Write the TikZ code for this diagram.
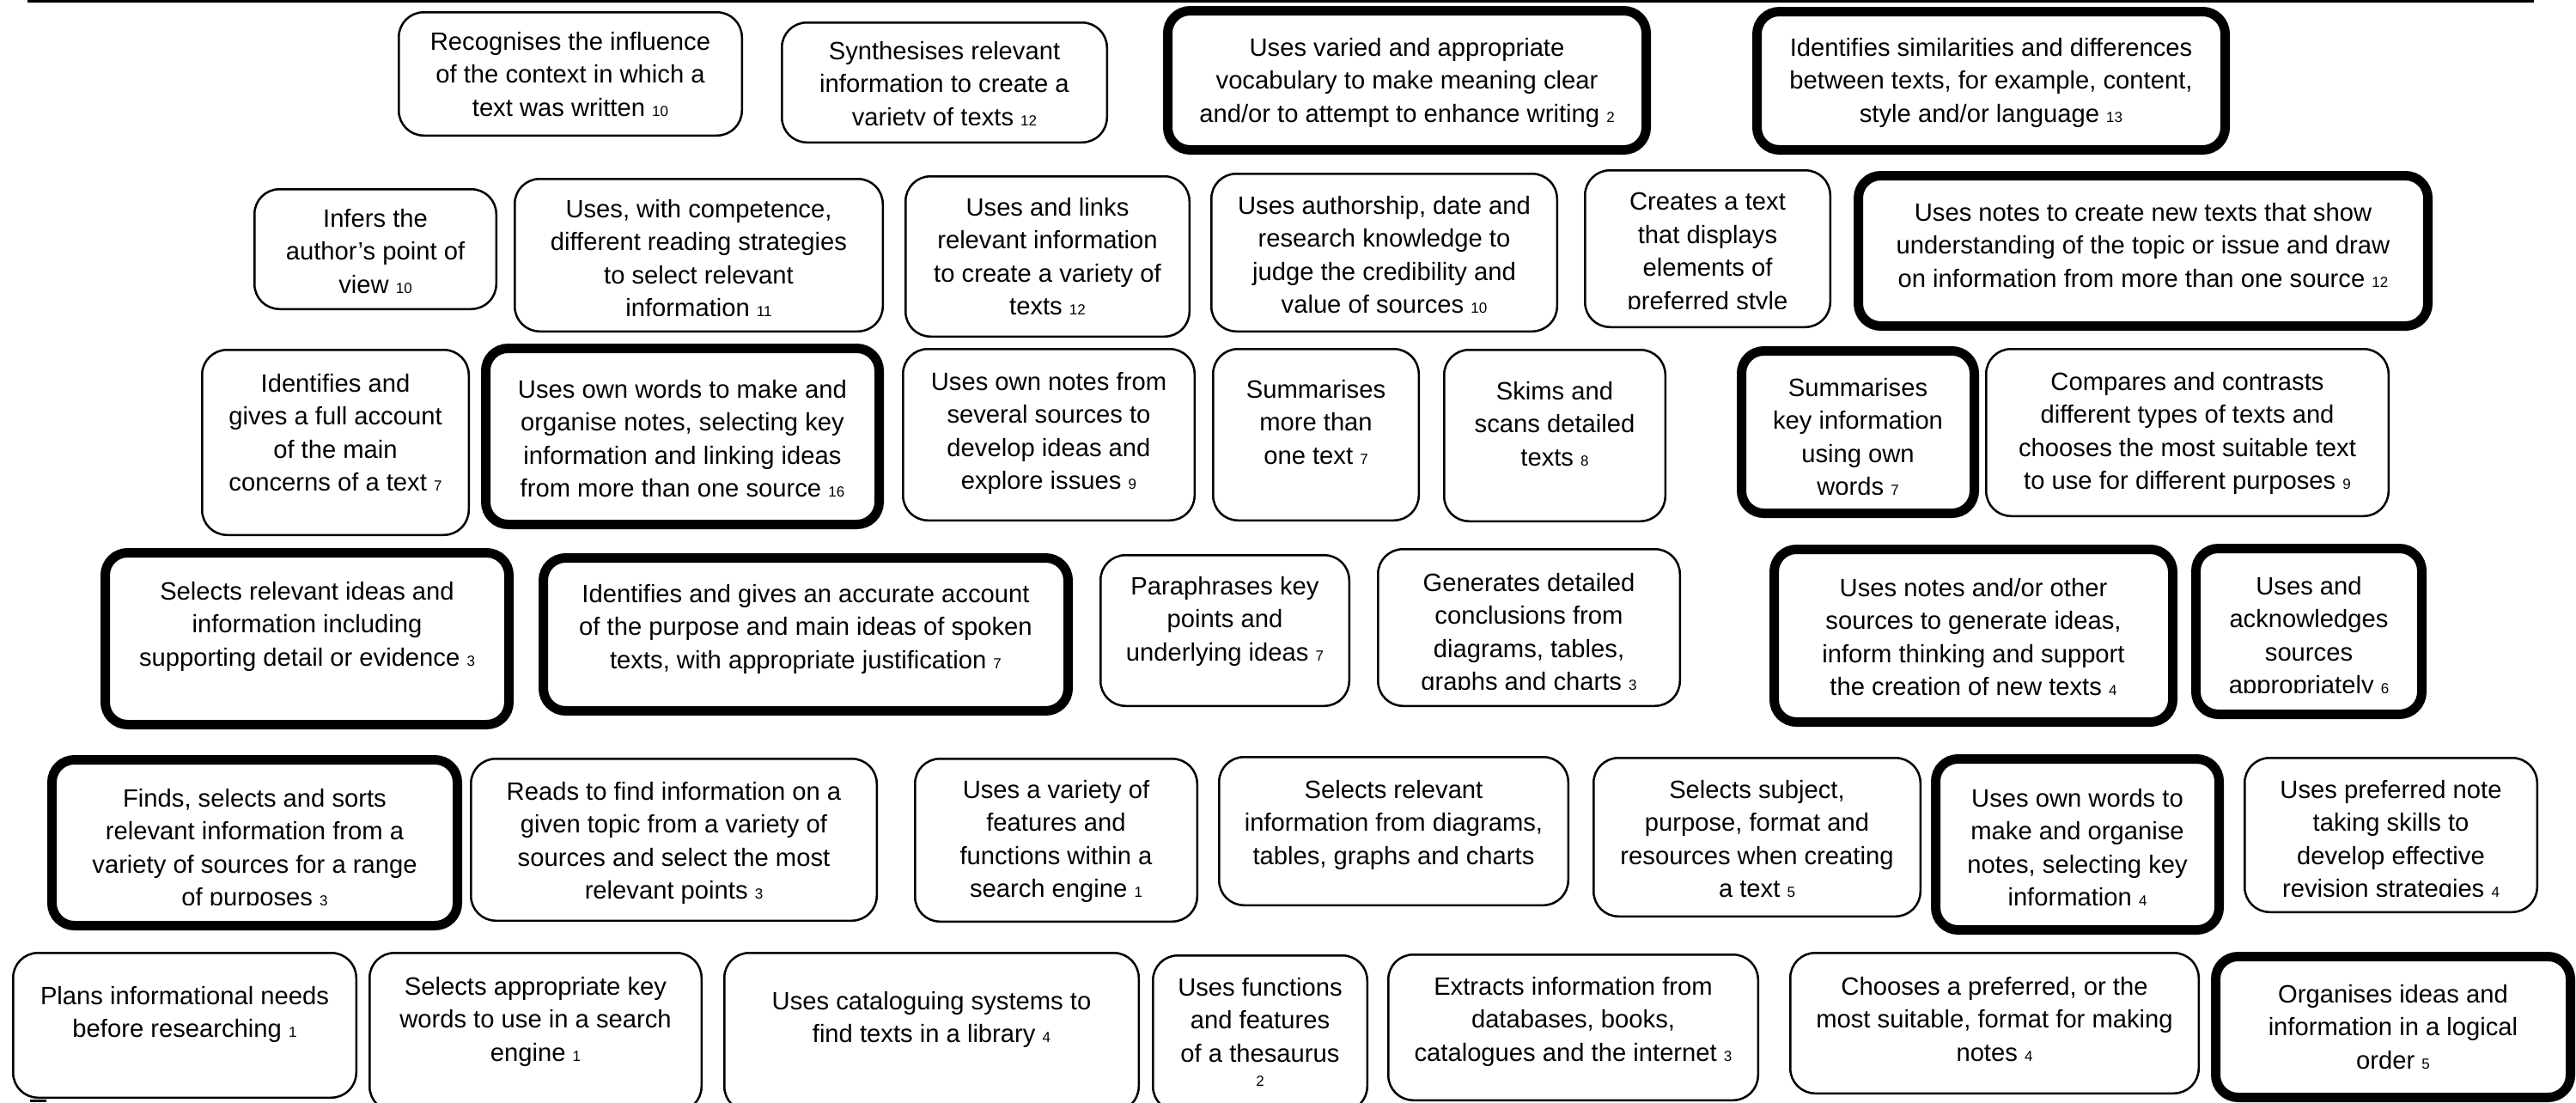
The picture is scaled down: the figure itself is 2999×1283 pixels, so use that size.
\documentclass[tikz,border=0pt]{standalone}
\usepackage{fontspec}
\setmainfont{Liberation Sans}
\usetikzlibrary{fit}

% body text of the skill boxes and the small level numbers after it
\newcommand\skillfont{\fontsize{29.2}{38.5}\selectfont}
\newcommand\lvlno[1]{{\fontsize{17}{17}\selectfont #1}}

\tikzset{
  skillbox/.style={draw=black, line width=2.5pt, rounded corners=29pt, inner sep=-1.25pt},
  keybox/.style={draw=black, line width=11pt, rounded corners=26pt, inner sep=-5.5pt},
  skilltext/.style={font=\skillfont, align=center, inner sep=0pt, anchor=north,
                    execute at begin node=\strut},
}

\begin{document}
\begin{tikzpicture}[x=1pt, y=-1pt]
\useasboundingbox (0,0) rectangle (2999,1283);
\clip (0,0) rectangle (2999,1283);

% rule along the top edge
\coordinate (ruleL) at (32,1.5);
\coordinate (ruleR) at (2950,1.5);
\draw[line width=3pt] (ruleL) -- (ruleR);

% ---------- row 1 ----------
\node[skillbox, fit={(463,13) (865,159)}] (b-a1) {};
\node[skilltext] (t-a1) at (664,37) {Recognises the influence\\of the context in which a\\text was written \lvlno{10}};

\node[skillbox, fit={(909,25) (1290,167)}] (b-a2) {};
\begin{scope}
\clip (909,25) rectangle (1290,145);
\node[skilltext] (t-a2) at (1099.5,48) {Synthesises relevant\\information to create a\\variety of texts \lvlno{12}};
\end{scope}

\node[keybox, fit={(1354,7) (1922,180)}] (b-a3) {};
\node[skilltext] (t-a3) at (1638,44) {Uses varied and appropriate\\vocabulary to make meaning clear\\and/or to attempt to enhance writing \lvlno{2}};

\node[keybox, fit={(2040,8) (2596,180)}] (b-a4) {};
\node[skilltext] (t-a4) at (2318,44) {Identifies similarities and differences\\between texts, for example, content,\\style and/or language \lvlno{13}};

% ---------- row 2 ----------
\node[skillbox, fit={(295,219) (579,361)}] (b-b1) {};
\node[skilltext] (t-b1) at (437,243) {Infers the\\author’s point of\\view \lvlno{10}};

\node[skillbox, fit={(598,207) (1029,387)}] (b-b2) {};
\begin{scope}
\clip (598,207) rectangle (1029,367.5);
\node[skilltext] (t-b2) at (813.5,232) {Uses, with competence,\\different reading strategies\\to select relevant\\information \lvlno{11}};
\end{scope}

\node[skillbox, fit={(1053,204) (1386,393)}] (b-b3) {};
\node[skilltext] (t-b3) at (1219.5,230) {Uses and links\\relevant information\\to create a variety of\\texts \lvlno{12}};

\node[skillbox, fit={(1409,201) (1814,387)}] (b-b4) {};
\node[skilltext] (t-b4) at (1611.5,228) {Uses authorship, date and\\research knowledge to\\judge the credibility and\\value of sources \lvlno{10}};

\node[skillbox, fit={(1844,197) (2132,382)}] (b-b5) {};
\begin{scope}
\clip (1844,197) rectangle (2132,359.5);
\node[skilltext] (t-b5) at (1988,224) {Creates a text\\that displays\\elements of\\preferred style};
\end{scope}

\node[keybox, fit={(2158,199) (2832,385)}] (b-b6) {};
\node[skilltext] (t-b6) at (2495,236) {Uses notes to create new texts that show\\understanding of the topic or issue and draw\\on information from more than one source \lvlno{12}};

% ---------- row 3 ----------
\node[skillbox, fit={(234,406) (547,624)}] (b-c1) {};
\node[skilltext] (t-c1) at (390.5,435) {Identifies and\\gives a full account\\of the main\\concerns of a text \lvlno{7}};

\node[keybox, fit={(560,400) (1029,616)}] (b-c2) {};
\node[skilltext] (t-c2) at (794.5,442) {Uses own words to make and\\organise notes, selecting key\\information and linking ideas\\from more than one source \lvlno{16}};

\node[skillbox, fit={(1050,405) (1392,607)}] (b-c3) {};
\node[skilltext] (t-c3) at (1221,433) {Uses own notes from\\several sources to\\develop ideas and\\explore issues \lvlno{9}};

\node[skillbox, fit={(1411,405) (1653,607)}] (b-c4) {};
\node[skilltext] (t-c4) at (1532,442) {Summarises\\more than\\one text \lvlno{7}};

\node[skillbox, fit={(1680,406) (1940,608)}] (b-c5) {};
\node[skilltext] (t-c5) at (1810,444) {Skims and\\scans detailed\\texts \lvlno{8}};

\node[keybox, fit={(2022,403) (2304,603)}] (b-c6) {};
\begin{scope}
\clip (2022,403) rectangle (2304,575.5);
\node[skilltext] (t-c6) at (2163,440) {Summarises\\key information\\using own\\words \lvlno{7}};
\end{scope}

\node[skillbox, fit={(2311,405) (2782,602)}] (b-c7) {};
\node[skilltext] (t-c7) at (2546.5,433) {Compares and contrasts\\different types of texts and\\chooses the most suitable text\\to use for different purposes \lvlno{9}};

% ---------- row 4 ----------
\node[keybox, fit={(117,638) (598,849)}] (b-d1) {};
\node[skilltext] (t-d1) at (357.5,677) {Selects relevant ideas and\\information including\\supporting detail or evidence \lvlno{3}};

\node[keybox, fit={(627,644) (1249,833)}] (b-d2) {};
\node[skilltext] (t-d2) at (938,680) {Identifies and gives an accurate account\\of the purpose and main ideas of spoken\\texts, with appropriate justification \lvlno{7}};

\node[skillbox, fit={(1280,645) (1572,823)}] (b-d3) {};
\node[skilltext] (t-d3) at (1426,671) {Paraphrases key\\points and\\underlying ideas \lvlno{7}};

\node[skillbox, fit={(1603,638) (1957,823)}] (b-d4) {};
\begin{scope}
\clip (1603,638) rectangle (1957,802.5);
\node[skilltext] (t-d4) at (1780,667) {Generates detailed\\conclusions from\\diagrams, tables,\\graphs and charts \lvlno{3}};
\end{scope}

\node[keybox, fit={(2060,634) (2535,846)}] (b-d5) {};
\node[skilltext] (t-d5) at (2297.5,673) {Uses notes and/or other\\sources to generate ideas,\\inform thinking and support\\the creation of new texts \lvlno{4}};

\node[keybox, fit={(2551,633) (2825,837)}] (b-d6) {};
\begin{scope}
\clip (2551,633) rectangle (2825,806.5);
\node[skilltext] (t-d6) at (2688,671) {Uses and\\acknowledges\\sources\\appropriately \lvlno{6}};
\end{scope}

% ---------- row 5 ----------
\node[keybox, fit={(55,879) (538,1083)}] (b-e1) {};
\begin{scope}
\clip (55,879) rectangle (538,1053.5);
\node[skilltext] (t-e1) at (296.5,918) {Finds, selects and sorts\\relevant information from a\\variety of sources for a range\\of purposes \lvlno{3}};
\end{scope}

\node[skillbox, fit={(547,882) (1022,1073)}] (b-e2) {};
\node[skilltext] (t-e2) at (784.5,910) {Reads to find information on a\\given topic from a variety of\\sources and select the most\\relevant points \lvlno{3}};

\node[skillbox, fit={(1064,882) (1395,1074)}] (b-e3) {};
\node[skilltext] (t-e3) at (1229.5,908) {Uses a variety of\\features and\\functions within a\\search engine \lvlno{1}};

\node[skillbox, fit={(1418,880) (1827,1055)}] (b-e4) {};
\node[skilltext] (t-e4) at (1622.5,908) {Selects relevant\\information from diagrams,\\tables, graphs and charts};

\node[skillbox, fit={(1854,881) (2237,1068)}] (b-e5) {};
\node[skilltext] (t-e5) at (2045.5,908) {Selects subject,\\purpose, format and\\resources when creating\\a text \lvlno{5}};

\node[keybox, fit={(2248,878) (2589,1088)}] (b-e6) {};
\node[skilltext] (t-e6) at (2418.5,918) {Uses own words to\\make and organise\\notes, selecting key\\information \lvlno{4}};

\node[skillbox, fit={(2612,881) (2955,1063)}] (b-e7) {};
\begin{scope}
\clip (2612,881) rectangle (2955,1043.5);
\node[skilltext] (t-e7) at (2783.5,908) {Uses preferred note\\taking skills to\\develop effective\\revision strategies \lvlno{4}};
\end{scope}

% ---------- row 6 ----------
\node[skillbox, fit={(14,1108) (416,1279)}] (b-f1) {};
\node[skilltext] (t-f1) at (215,1148) {Plans informational needs\\before researching \lvlno{1}};

\node[skillbox, fit={(429,1108) (818,1295)}] (b-f2) {};
\node[skilltext] (t-f2) at (623.5,1137) {Selects appropriate key\\words to use in a search\\engine \lvlno{1}};

\node[skillbox, fit={(842,1108) (1327,1295)}] (b-f3) {};
\node[skilltext] (t-f3) at (1084.5,1154) {Uses cataloguing systems to\\find texts in a library \lvlno{4}};

\node[skillbox, fit={(1341,1111) (1593,1295)}] (b-f4) {};
\node[skilltext] (t-f4) at (1467,1138) {Uses functions\\and features\\of a thesaurus\\[-10pt]\lvlno{2}};

\node[skillbox, fit={(1615,1110) (2048,1282)}] (b-f5) {};
\node[skilltext] (t-f5) at (1831.5,1137) {Extracts information from\\databases, books,\\catalogues and the internet \lvlno{3}};

\node[skillbox, fit={(2083,1108) (2561,1274)}] (b-f6) {};
\node[skilltext] (t-f6) at (2322,1137) {Chooses a preferred, or the\\most suitable, format for making\\notes \lvlno{4}};

\node[keybox, fit={(2574,1108) (2998,1283)}] (b-f7) {};
\node[skilltext] (t-f7) at (2786,1146) {Organises ideas and\\information in a logical\\order \lvlno{5}};

% small mark at the lower left edge
\fill (35,1280) rectangle (54,1283);

\end{tikzpicture}
\end{document}
